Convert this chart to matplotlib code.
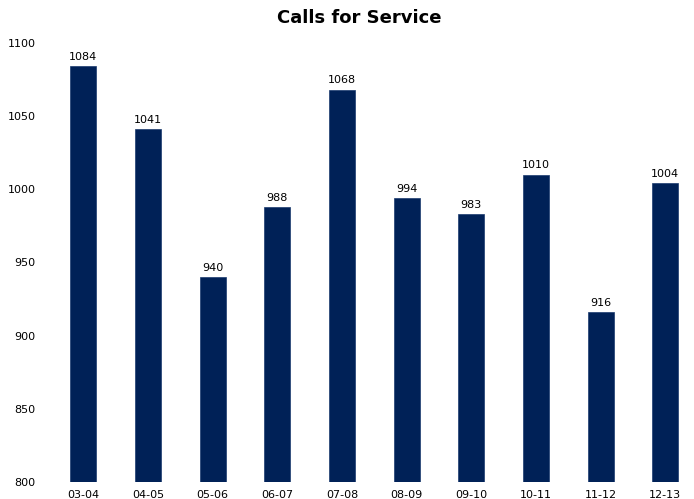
import matplotlib.pyplot as plt

# data
years = ['03-04', '04-05', '05-06', '06-07', '07-08',
         '08-09', '09-10', '10-11', '11-12', '12-13']
calls = [1084, 1041, 940, 988, 1068, 994, 983, 1010, 916, 1004]

fig = plt.figure(figsize=(6.94, 4.99), dpi=100)
ax = fig.add_axes([51 / 694, 17 / 499, 646.7 / 694, 439 / 499])

bars = ax.bar(years, calls, width=0.4, color='#002157', edgecolor='#1a3a6e', linewidth=0.5)
for b, v in zip(bars, calls):
    ax.text(b.get_x() + b.get_width() / 2, v + 3, str(v),
            ha='center', va='bottom', fontsize=8, color='black')

ax.set_xlim(-0.5, 9.5)
ax.set_ylim(800, 1100)
ax.set_yticks(range(800, 1101, 50))

for s in ax.spines.values():
    s.set_visible(False)
ax.tick_params(length=0, labelsize=8)
ax.tick_params(axis='y', pad=11)
ax.tick_params(axis='x', pad=6)

fig.text(359 / 694, 1 - 18 / 499, 'Calls for Service', ha='center', va='center',
         fontsize=13, fontweight='bold')

fig.savefig('out.png', dpi=100)
